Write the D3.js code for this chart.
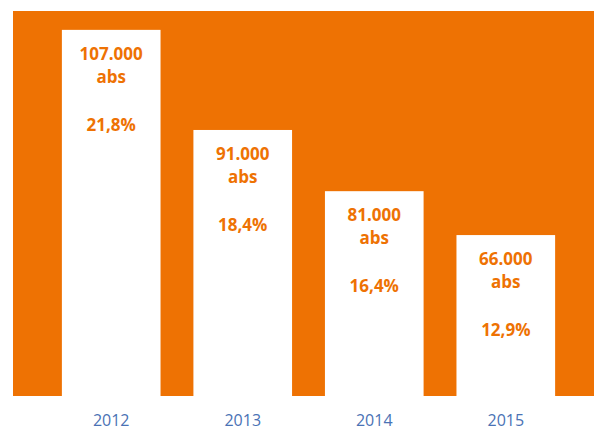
<!DOCTYPE html>
<html lang="en">
<head>
    <meta charset="UTF-8">
    <title>Bar chart with D3.js</title>
    <script src="https://d3js.org/d3.v7.min.js"></script>
    <style>
        body { margin: 0; background: #fff; }
        svg { display: block; }
    </style>
</head>
<body>
    <svg width="594" height="430"></svg>

    <script>
        // Data
        const years = ["2012", "2013", "2014", "2015"];
        const absValues = ["107.000", "91.000", "81.000", "66.000"];
        const shares = ["21,8%", "18,4%", "16,4%", "12,9%"];
        // bar heights as drawn (percent of plot height, not proportional to the values)
        const barLevels = [95.1, 69.1, 53.2, 41.8];

        const orange = "#ee7203";
        const blue = "#4a72b5";

        const svg = d3.select("svg");
        const plot = { left: 13, top: 11, right: 594, bottom: 396 };

        // orange plot background
        svg.append("rect")
            .attr("x", plot.left)
            .attr("y", plot.top)
            .attr("width", plot.right - plot.left)
            .attr("height", plot.bottom - plot.top)
            .attr("fill", orange);

        const x = d3.scaleBand()
            .domain(years)
            .range([29, 588])
            .paddingInner(0.25)
            .paddingOuter(0.25);

        const y = d3.scaleLinear()
            .domain([0, 100])
            .range([plot.bottom, plot.top]);

        const data = years.map((yr, i) => ({
            year: yr, abs: absValues[i], share: shares[i], level: barLevels[i]
        }));

        // white bars
        svg.selectAll(".bar")
            .data(data)
            .join("rect")
            .attr("class", "bar")
            .attr("x", d => x(d.year))
            .attr("y", d => y(d.level))
            .attr("width", x.bandwidth())
            .attr("height", d => y(0) - y(d.level))
            .attr("fill", "#fff");

        // labels inside bars
        const lbl = svg.selectAll(".lbl")
            .data(data)
            .join("text")
            .attr("class", "lbl")
            .attr("text-anchor", "middle")
            .attr("fill", orange)
            .style("font-family", "'Open Sans', sans-serif")
            .style("font-weight", "bold")
            .style("font-size", "17px");

        const lines = [d => d.abs, () => "abs", d => d.share];
        const offsets = [30, 53, 101];
        lines.forEach((f, k) => {
            lbl.append("tspan")
                .attr("x", d => x(d.year) + x.bandwidth() / 2)
                .attr("y", d => y(d.level) + offsets[k])
                .text(f);
        });

        // x axis labels
        const xAxis = svg.append("g")
            .attr("transform", `translate(0,${plot.bottom})`)
            .call(d3.axisBottom(x).tickSize(0).tickPadding(19));
        xAxis.select(".domain").remove();
        xAxis.selectAll("text")
            .attr("fill", blue)
            .style("font-family", "'Open Sans', sans-serif")
            .style("font-size", "16px");
    </script>
</body>
</html>
